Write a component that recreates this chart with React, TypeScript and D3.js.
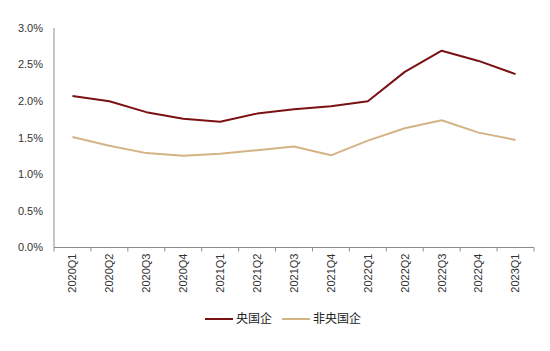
import { useEffect, useRef } from 'react';
import * as d3 from 'd3';

// Quarterly values, percent
const quarters = [
  '2020Q1', '2020Q2', '2020Q3', '2020Q4',
  '2021Q1', '2021Q2', '2021Q3', '2021Q4',
  '2022Q1', '2022Q2', '2022Q3', '2022Q4',
  '2023Q1',
];
const central = [2.07, 2.0, 1.85, 1.76, 1.72, 1.83, 1.89, 1.93, 2.0, 2.4, 2.69, 2.55, 2.37];
const nonCentral = [1.51, 1.39, 1.29, 1.255, 1.28, 1.33, 1.38, 1.26, 1.46, 1.63, 1.74, 1.57, 1.47];
const yTicks = [0, 0.5, 1.0, 1.5, 2.0, 2.5, 3.0];
const seriesNames = ['央国企', '非央国企'];

const colors = ['#7B1113', '#D4B384'];
const FONT = '"Liberation Sans", Arial, "Noto Sans CJK SC", sans-serif';

export default function App() {
  const svgRef = useRef<SVGSVGElement>(null);

  useEffect(() => {
    if (!svgRef.current) return;
    const width = 550;
    const height = 351;
    const margin = { top: 28, right: 16, bottom: 103.5, left: 54 };
    const innerWidth = width - margin.left - margin.right;
    const innerHeight = height - margin.top - margin.bottom;

    const svg = d3.select(svgRef.current);
    svg.selectAll('*').remove();
    svg.attr('width', width).attr('height', height);

    const g = svg.append('g').attr('transform', `translate(${margin.left},${margin.top})`);

    const x = d3.scaleBand().domain(quarters).range([0, innerWidth]);
    const y = d3.scaleLinear().domain([0, 3]).range([innerHeight, 0]);

    // Y axis
    g.append('line')
      .attr('x1', 0).attr('x2', 0)
      .attr('y1', 0).attr('y2', innerHeight)
      .attr('stroke', '#8c8c8c');
    g.selectAll('.ylab')
      .data(yTicks)
      .enter()
      .append('text')
      .attr('x', -11)
      .attr('y', (d) => y(d))
      .attr('dy', '0.35em')
      .attr('text-anchor', 'end')
      .attr('font-family', FONT)
      .attr('font-size', '11px')
      .attr('fill', '#333')
      .text((d) => d.toFixed(1) + '%');

    // X axis
    const xAxis = g.append('g').attr('transform', `translate(0,${innerHeight})`);
    xAxis.append('line')
      .attr('x1', 0).attr('x2', innerWidth)
      .attr('stroke', '#8c8c8c');
    const bounds = quarters.map((q) => x(q) || 0).concat([innerWidth]);
    xAxis.selectAll('.tick')
      .data(bounds)
      .enter()
      .append('line')
      .attr('x1', (d) => d).attr('x2', (d) => d)
      .attr('y1', 0).attr('y2', 4)
      .attr('stroke', '#8c8c8c');
    xAxis.selectAll('.xlab')
      .data(quarters)
      .enter()
      .append('text')
      .attr('transform', (d) => `translate(${(x(d) || 0) + x.bandwidth() / 2},6) rotate(-90)`)
      .attr('dy', '0.35em')
      .attr('text-anchor', 'end')
      .attr('font-family', FONT)
      .attr('font-size', '11px')
      .attr('fill', '#333')
      .text((d) => d);

    // Lines
    const line = d3
      .line<number>()
      .x((_, i) => (x(quarters[i]) || 0) + x.bandwidth() / 2)
      .y((d) => y(d));
    [central, nonCentral].forEach((s, i) => {
      g.append('path')
        .datum(s)
        .attr('fill', 'none')
        .attr('stroke', colors[i])
        .attr('stroke-width', 2)
        .attr('stroke-linejoin', 'round')
        .attr('d', line);
    });

    // Legend
    const legend = svg.append('g').attr('transform', 'translate(205,319)');
    const offsets = [0, 77];
    seriesNames.forEach((name, i) => {
      const lg = legend.append('g').attr('transform', `translate(${offsets[i]},0)`);
      lg.append('line')
        .attr('x1', 0).attr('x2', 28)
        .attr('stroke', colors[i])
        .attr('stroke-width', 2);
      lg.append('text')
        .attr('x', 31)
        .attr('dy', '0.35em')
        .attr('font-family', FONT)
        .attr('font-size', '12px')
        .attr('fill', '#222')
        .text(name);
    });
  }, []);

  return (
    <svg
      ref={svgRef}
      style={{ position: 'absolute', left: 0, top: 0, background: '#fff' }}
    />
  );
}
